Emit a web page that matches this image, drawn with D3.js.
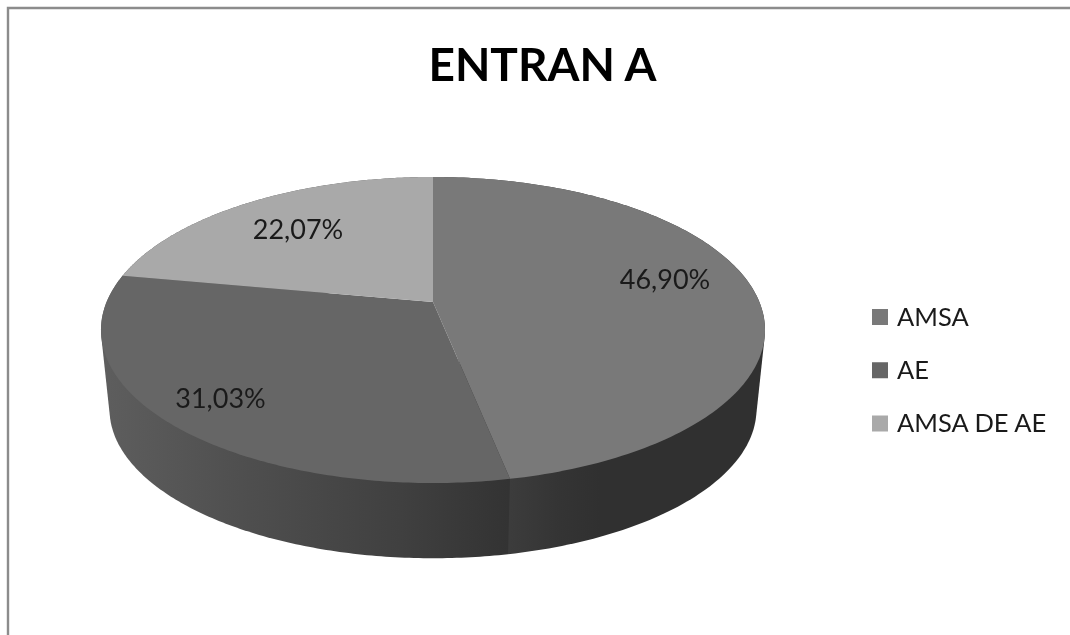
<!DOCTYPE html>
<html><head><meta charset="utf-8">
<script src="https://cdn.jsdelivr.net/npm/d3@7"></script>
<style>html,body{margin:0;padding:0;background:#fff}svg{display:block;filter:blur(0.4px)}text{font-family:Lato,"Open Sans",sans-serif;fill:#1a1a1a}</style>
</head><body><div id="chart"></div>
<script>
const categories = ["AMSA", "AE", "AMSA DE AE"];
const values = [46.90, 31.03, 22.07];
const valueLabels = ["46,90%", "31,03%", "22,07%"];
const titleText = "ENTRAN A";
const topColors = ["#797979", "#666666", "#a9a9a9"];
const labelPos = [[665, 289], [220.5, 408], [298, 239]];

const W = 1070, H = 635;
const svg = d3.select("#chart").append("svg").attr("width", W).attr("height", H);
svg.append("rect").attr("width", W).attr("height", H).attr("fill", "#fff");
svg.append("path").attr("d", d3.line()([[8, H], [8, 8], [W, 8]]))
  .attr("fill", "none").attr("stroke", "#8c8c8c").attr("stroke-width", 2.4);

// perspective projection of a disc: angle -> page position
const k = 0.183;
const project = (cy, A, B) => a => {
  const u = Math.sin(a), v = Math.cos(a), d = 1 + k * v;
  return [433 + A * u / d, cy - B * v / d];
};
const topRim = project(302, 326.4, 147.9);
const botRim = project(382, 318, 144);
const discCenter = [433, 302];

const pie = d3.pie().sort(null)(values);
const poly = d3.line();
const sample = (s, n = 160) => d3.range(n + 1).map(i => s.startAngle + (s.endAngle - s.startAngle) * i / n);

// side wall shading per slice: horizontal gradient stops
const sideStops = [
  [[510, "#3c3c3c"], [560, "#343434"], [600, "#303030"], [770, "#303030"]],
  [[100, "#5e5e5e"], [250, "#4e4e4e"], [400, "#404040"], [508, "#333333"]],
  [[100, "#555555"], [433, "#555555"]]
];
const defs = svg.append("defs");
defs.selectAll("linearGradient").data(sideStops).join("linearGradient")
  .attr("id", (d, i) => "side" + i)
  .attr("gradientUnits", "userSpaceOnUse")
  .attr("x1", d => d[0][0]).attr("x2", d => d[d.length - 1][0])
  .attr("y1", 0).attr("y2", 0)
  .each(function (stops) {
    const x0 = stops[0][0], x1 = stops[stops.length - 1][0];
    d3.select(this).selectAll("stop").data(stops).join("stop")
      .attr("offset", d => (d[0] - x0) / (x1 - x0))
      .attr("stop-color", d => d[1]);
  });

// side walls, back to front: hull of a slice's upper and lower rim arcs
svg.append("g").selectAll("path").data([pie[2], pie[0], pie[1]]).join("path")
  .attr("fill", d => `url(#side${d.index})`)
  .attr("d", d => {
    const as = sample(d);
    return poly(d3.polygonHull([...as.map(topRim), ...as.map(botRim)])) + "Z";
  });

// top faces
svg.append("g").selectAll("path").data(pie).join("path")
  .attr("fill", d => topColors[d.index])
  .attr("d", d => poly([discCenter, ...sample(d).map(topRim)]) + "Z");

svg.append("text").attr("x", 542.5).attr("y", 81).attr("text-anchor", "middle")
  .attr("font-size", 46).attr("font-weight", 700).style("fill", "#000").text(titleText);

svg.append("g").selectAll("text").data(valueLabels).join("text")
  .attr("x", (d, i) => labelPos[i][0]).attr("y", (d, i) => labelPos[i][1])
  .attr("text-anchor", "middle").attr("font-size", 27).text(d => d);

const legendY = d3.scalePoint().domain(categories).range([317, 423.5]);
const lg = svg.append("g").selectAll("g").data(categories).join("g")
  .attr("transform", d => `translate(872,${legendY(d)})`);
lg.append("rect").attr("y", -8).attr("width", 16).attr("height", 16)
  .attr("fill", (d, i) => topColors[i]);
lg.append("text").attr("x", 25).attr("y", 8.7).attr("font-size", 25.5).text(d => d);
</script></body></html>
